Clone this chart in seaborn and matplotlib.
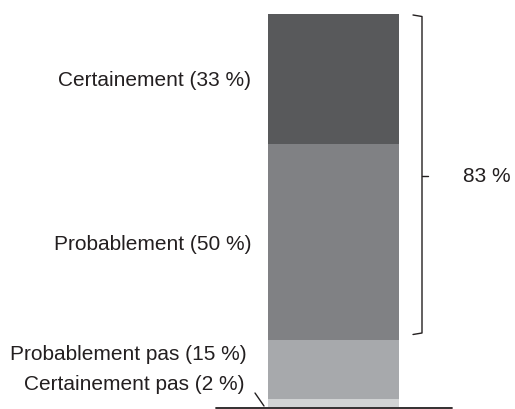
import matplotlib
matplotlib.use("Agg")
import matplotlib.pyplot as plt
import seaborn as sns
import pandas as pd

categories = ["Certainement pas", "Probablement pas", "Probablement", "Certainement"]
values = [2, 15, 50, 33]
labels = ["Certainement pas (2 %)", "Probablement pas (15 %)", "Probablement (50 %)", "Certainement (33 %)"]
colors = ["#d1d3d4", "#a7a9ac", "#808184", "#58595b"]
bracket_label = "83 %"

sns.set_theme(style="white")
plt.rcParams["font.family"] = ["Liberation Sans", "DejaVu Sans"]

W, H = 515, 409
fig = plt.figure(figsize=(W / 100, H / 100), dpi=100)
# y: 0 at pixel 407, 100 at pixel 14
y0_px, y100_px = 407.0, 14.0
ax = fig.add_axes([0, (H - y0_px) / H, 1, (y0_px - y100_px) / H])
bar_l, bar_r = 268, 399
bw = 0.8
k = (bar_r - bar_l) / bw
cx = (bar_l + bar_r) / 2

df = pd.DataFrame({"cat": categories, "val": values, "grp": ["x"] * 4})
bottom = 0
for i, row in df.iterrows():
    sns.barplot(data=df.iloc[[i]], x="grp", y="val", color=colors[i], width=bw,
                bottom=bottom, ax=ax, saturation=1, linewidth=0, errorbar=None)
    bottom += row["val"]
ax.set_xlim(-cx / k, (W - cx) / k)
ax.set_ylim(0, 100)
ax.axis("off")

def fx(px):
    return px / W

def fy(py):
    return 1 - py / H

fs = 15
txt = dict(fontsize=fs, color="#231f20", transform=fig.transFigure, va="center", ha="right")
fig.text(fx(251), fy(81), labels[3], **txt)
fig.text(fx(251), fy(244), labels[2], **txt)
fig.text(fx(247), fy(355), labels[1], **txt)
fig.text(fx(245), fy(385), labels[0], **txt)
fig.text(fx(463), fy(176), bracket_label, fontsize=fs, color="#231f20",
         transform=fig.transFigure, va="center", ha="left")

lk = dict(color="#231f20", lw=1.0, transform=fig.transFigure, clip_on=False)
# leader line for smallest segment
fig.lines.append(plt.Line2D([fx(255), fx(264)], [fy(393), fy(406)], **lk))
# baseline
fig.lines.append(plt.Line2D([fx(216), fx(452)], [fy(407.7), fy(407.7)], color="#231f20", lw=1.3,
                            transform=fig.transFigure))
# bracket
bx = 422
fig.lines.append(plt.Line2D([fx(413), fx(bx), fx(bx), fx(413)],
                            [fy(15), fy(16.5), fy(333), fy(334.5)], **lk))
fig.lines.append(plt.Line2D([fx(bx), fx(428)], [fy(176), fy(176)], **lk))

fig.savefig("out.png", dpi=100)
